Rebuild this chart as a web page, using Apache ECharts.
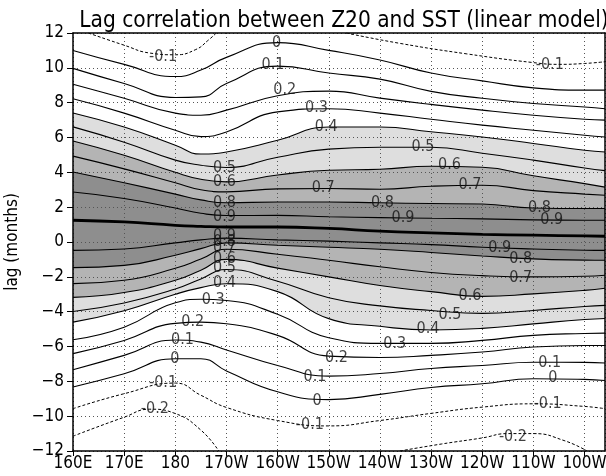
<!DOCTYPE html>
<html><head><meta charset="utf-8">
<script src="https://cdn.jsdelivr.net/npm/echarts/dist/echarts.min.js"></script>
<style>html,body{margin:0;padding:0;background:#fff}#c{width:606px;height:476px}</style>
</head><body><div id="c"></div>
<script>
// longitude grid (degrees east) at which each contour's lag is read
const lons = [160,170,180,185,190,200,210,220,230,240,250,260,264];

// positive-lag side (upper) contours, lag in months
const c00Up = [11.0,10.2,9.5,9.87,10.6,11.45,11.0,10.45,9.7,9.25,8.85,8.72,8.72];
const c01Up = [9.97,9.1,8.3,8.33,9.1,10.1,9.7,9.35,8.65,8.25,7.95,7.75,7.65];
const c02Up = [9.06,8.25,7.4,7.28,7.57,8.4,8.66,8.26,7.9,7.57,7.28,7.05,7.0];
const c03Up = [8.22,7.4,6.42,6.05,6.32,7.47,7.65,7.4,7.05,6.71,6.42,6.13,6.03];
const c04Up = [7.41,6.6,5.56,5.05,5.17,5.84,6.6,6.6,6.33,6.03,5.66,5.27,5.17];
const c05Up = [6.61,5.73,4.7,4.41,4.28,4.87,5.33,5.44,5.44,5.1,4.7,4.25,4.1];
const c06Up = [5.8,4.98,4.0,3.6,3.45,3.85,4.12,4.18,4.35,4.29,3.8,3.35,3.15];
const c07Up = [4.93,4.2,3.4,3.0,2.88,3.05,3.07,3.03,3.2,3.26,2.95,2.75,2.68];
const c08Up = [4.02,3.4,2.75,2.42,2.25,2.3,2.3,2.25,2.21,2.18,1.95,1.92,1.92];
const c09Up = [2.87,2.5,1.95,1.65,1.52,1.53,1.45,1.4,1.36,1.33,1.27,1.25,1.25];
// ridge of maximum correlation
const ridge = [1.25,1.15,0.96,0.9,0.86,0.86,0.78,0.62,0.52,0.44,0.39,0.35,0.33];
// negative-lag side (lower) contours
const c09Lo = [-0.48,-0.4,-0.05,0.12,0.22,0.12,0.05,-0.05,-0.15,-0.3,-0.4,-0.47,-0.48];
const c08Lo = [-1.47,-1.34,-0.76,-0.38,-0.05,-0.19,-0.3,-0.42,-0.6,-0.8,-0.97,-1.04,-1.05];
const c07Lo = [-2.39,-2.2,-1.51,-0.98,-0.42,-0.7,-1.05,-1.42,-1.75,-1.93,-2.0,-1.97,-1.91];
const c06Lo = [-3.18,-2.9,-2.2,-1.62,-1.0,-1.5,-2.0,-2.5,-2.85,-3.12,-2.98,-2.78,-2.66];
const c05Lo = [-3.99,-3.5,-2.7,-2.12,-1.58,-2.25,-3.2,-3.67,-3.93,-4.1,-3.93,-3.7,-3.64];
const c04Lo = [-4.6,-3.95,-3.0,-2.62,-2.4,-2.85,-4.4,-4.84,-5.05,-4.96,-4.7,-4.45,-4.39];
const c03Lo = [-5.61,-4.89,-3.49,-3.29,-3.36,-4.15,-5.5,-5.82,-5.82,-5.65,-5.36,-5.25,-5.23];
const c02Lo = [-6.41,-5.65,-4.67,-4.6,-4.69,-5.36,-6.55,-6.63,-6.51,-6.32,-6.03,-5.94,-5.94];
const c01Lo = [-7.33,-6.51,-5.63,-5.75,-6.2,-7.09,-7.7,-7.55,-7.26,-7.09,-6.9,-6.91,-6.95];
const c00Lo = [-8.33,-7.56,-6.7,-6.7,-7.4,-8.6,-9.05,-8.75,-8.35,-8.14,-7.85,-7.89,-7.95];
const cm1Lo = [-9.57,-8.71,-8.1,-8.8,-9.5,-10.25,-10.56,-10.25,-9.84,-9.48,-9.29,-9.44,-9.57];

// partial (negative) contours given as [lon, lag] pairs
const cm1TopLeft  = [[163,12],[170,11.3],[175,10.85],[180,10.75],[184,11.05],[186.5,11.6],[188,12]];
const cm1TopRight = [[213.4,12],[224,11.4],[237,10.8],[250,10.3],[255,10.2],[260,10.25],[264,10.35]];
const cm2BotLeft  = [[160,-11.15],[170,-10.06],[175,-9.6],[180,-9.85],[185,-10.8],[188.5,-12]];
const cm2BotRight = [[223.9,-12],[232,-11.6],[240,-11.25],[245,-11.0],[250,-11.0],[256,-11.4],[260.5,-12]];

// contour labels [lon, lag, text]
const contourLabels = [
  [177.6,10.62,'-0.1'],[199.8,11.45,'0'],[199.1,10.15,'0.1'],[201.4,8.72,'0.2'],
  [207.6,7.68,'0.3'],[209.5,6.59,'0.4'],[189.6,4.25,'0.5'],[228.4,5.44,'0.5'],
  [189.6,3.43,'0.6'],[233.6,4.41,'0.6'],[208.9,3.09,'0.7'],[237.6,3.26,'0.7'],
  [189.6,2.22,'0.8'],[220.5,2.22,'0.8'],[251.2,1.94,'0.8'],
  [189.6,1.42,'0.9'],[224.5,1.36,'0.9'],[253.6,1.25,'0.9'],[253.2,10.2,'-0.1'],
  [189.6,0.33,'0.9'],[189.6,0.0,'0.8'],[189.6,-0.36,'0.7'],[189.6,-0.94,'0.6'],
  [189.6,-1.51,'0.5'],[189.6,-2.37,'0.4'],[187.4,-3.3,'0.3'],
  [243.4,-0.31,'0.9'],[247.5,-0.94,'0.8'],[247.5,-2.03,'0.7'],
  [237.6,-3.12,'0.6'],[233.7,-4.16,'0.5'],[229.4,-5.0,'0.4'],[222.9,-5.84,'0.3'],
  [183.4,-4.6,'0.2'],[211.5,-6.68,'0.2'],
  [181.4,-5.6,'0.1'],[207.3,-7.72,'0.1'],[253.2,-6.91,'0.1'],
  [179.9,-6.69,'0'],[207.7,-9.1,'0'],[253.8,-7.78,'0'],
  [177.6,-8.06,'-0.1'],[206.3,-10.5,'-0.1'],[252.8,-9.27,'-0.1'],
  [176,-9.56,'-0.2'],[246,-11.17,'-0.2']
];

const xTicks = {min:160, max:264, step:10};
const yTicks = {min:-12, max:12, step:2};
const titleText = 'Lag correlation between Z20 and SST (linear model)';
const yName = 'lag (months)';

const FONT = "'Liberation Sans Narrow','DejaVu Sans Condensed','DejaVu Sans',sans-serif";
const LIGHT = '#dedede', MID = '#b4b4b4', DARK = '#8e8e8e';

function pts(arr){ return lons.map((x,i)=>[x,arr[i]]); }

const series = [];
// layered fills: each fills from its curve down to the bottom of the plot
[[c04Up,LIGHT],[c06Up,MID],[c08Up,DARK],[c08Lo,MID],[c06Lo,LIGHT],[c04Lo,'#ffffff']].forEach(([arr,col])=>{
  series.push({type:'line', data:pts(arr), smooth:true, symbol:'none', silent:true,
    lineStyle:{width:0}, areaStyle:{color:col, opacity:1, origin:'start'}, z:1, animation:false});
});
function addLine(data, opt){
  series.push(Object.assign({type:'line', data, smooth:true, symbol:'none', silent:true, z:5, animation:false,
    lineStyle:{color:'#000', width:1.1}}, opt||{}));
}
[c00Up,c01Up,c02Up,c03Up,c04Up,c05Up,c06Up,c07Up,c08Up,c09Up,
 c09Lo,c08Lo,c07Lo,c06Lo,c05Lo,c04Lo,c03Lo,c02Lo,c01Lo,c00Lo].forEach(a=>addLine(pts(a)));
addLine(pts(ridge), {lineStyle:{color:'#000', width:2.8}});
const dashed = {lineStyle:{color:'#000', width:1, type:[3,2]}};
addLine(pts(cm1Lo), dashed);
[cm1TopLeft,cm1TopRight,cm2BotLeft,cm2BotRight].forEach(d=>addLine(d, dashed));
series.push({type:'scatter', data:contourLabels.map(l=>({value:[l[0],l[1]], name:l[2]})),
  symbolSize:0, silent:true, z:6, animation:false,
  label:{show:true, position:'inside', formatter:'{b}', fontSize:16, fontFamily:FONT, color:'#111'}});

function lonFmt(v){ if(v<180) return v+'E'; if(v===180) return '180'; return (360-v)+'W'; }
const split = {show:true, lineStyle:{color:'#555', width:1, type:[1,3]}};
const axLine = {show:true, onZero:false, lineStyle:{color:'#000', width:1.5}};

const chart = echarts.init(document.getElementById('c'), null, {renderer:'canvas'});
chart.setOption({
  animation:false,
  backgroundColor:'#fff',
  title:{text:titleText, left:339, top:5, textAlign:'center',
    textStyle:{fontFamily:FONT, fontSize:22.5, fontWeight:'normal', color:'#000'}},
  grid:{left:73, right:1, top:33, bottom:25, containLabel:false, outerBoundsMode:'none'},
  xAxis:[
    {type:'value', min:xTicks.min, max:xTicks.max, interval:xTicks.step, position:'bottom', z:3,
     axisLine:axLine, axisTick:{show:true, length:5, lineStyle:{color:'#000'}},
     axisLabel:{formatter:lonFmt, fontSize:17, fontFamily:FONT, color:'#000', margin:4, showMaxLabel:false},
     splitLine:split},
    {type:'value', min:xTicks.min, max:xTicks.max, position:'top', z:3,
     axisLine:axLine, axisTick:{show:false}, axisLabel:{show:false}, splitLine:{show:false}}
  ],
  yAxis:[
    {type:'value', min:yTicks.min, max:yTicks.max, interval:yTicks.step, position:'left', z:3,
     name:yName, nameLocation:'middle', nameGap:45,
     nameTextStyle:{fontFamily:FONT, fontSize:17, color:'#000'},
     axisLine:axLine, axisTick:{show:true, length:6, lineStyle:{color:'#000'}},
     axisLabel:{formatter:v=>v<0?'\u2212'+(-v):String(v), fontSize:17, fontFamily:FONT, color:'#000', margin:9},
     splitLine:split},
    {type:'value', min:yTicks.min, max:yTicks.max, position:'right', z:3,
     axisLine:axLine, axisTick:{show:false}, axisLabel:{show:false}, splitLine:{show:false}}
  ],
  series
});
</script></body></html>
